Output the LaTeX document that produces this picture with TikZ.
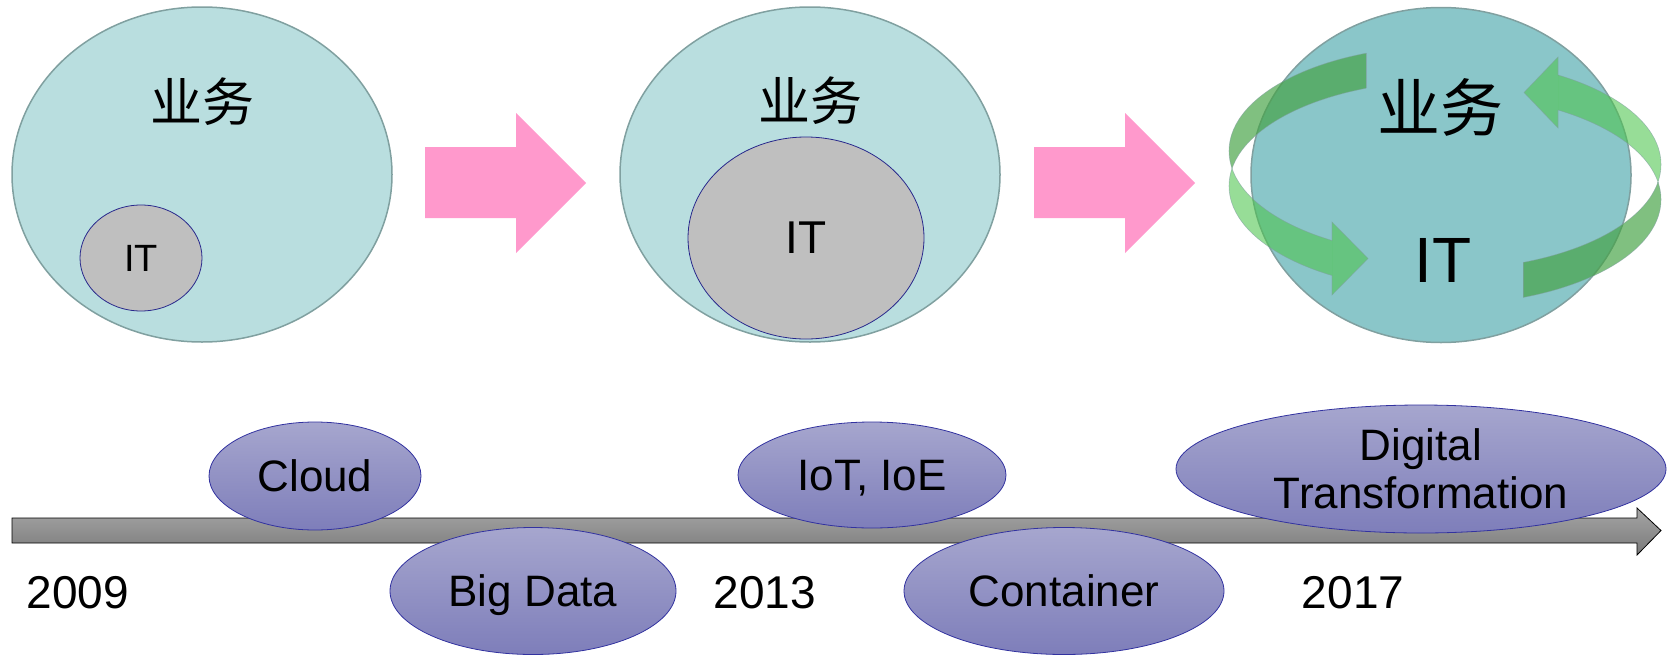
\documentclass[tikz,border=0pt]{standalone}
\usepackage{fontspec}
\setmainfont{Liberation Sans}
\newfontfamily\cjk{Noto Sans CJK SC}
\usetikzlibrary{shapes.geometric}

\definecolor{bizfill}{RGB}{185,222,223}
\definecolor{bizfilldark}{RGB}{138,198,201}
\definecolor{bizline}{RGB}{128,160,160}
\definecolor{itfill}{RGB}{191,191,191}
\definecolor{itline}{RGB}{40,40,140}
\definecolor{pinkarr}{RGB}{255,153,204}
\definecolor{tltop}{RGB}{166,166,206}
\definecolor{tlbot}{RGB}{126,126,186}
\definecolor{tlline}{RGB}{50,50,160}
\definecolor{barlight}{RGB}{165,165,165}
\definecolor{bardark}{RGB}{122,122,122}
\definecolor{grnfront}{RGB}{76,196,76}
\definecolor{grnback}{RGB}{68,162,68}

\begin{document}
\begin{tikzpicture}[x=1pt, y=-1pt,
    bizell/.style={ellipse, draw=bizline, line width=1.5pt, fill=bizfill,
      inner sep=0pt, minimum width=380pt, minimum height=335pt},
    itell/.style={ellipse, draw=itline, line width=0.8pt, fill=itfill, inner sep=0pt},
    tlell/.style={ellipse, draw=tlline, line width=0.8pt, top color=tltop,
      bottom color=tlbot, inner sep=0pt, align=center,
      font=\fontsize{44}{48}\selectfont},
    oneline/.style={text height=31.5pt, text depth=0pt},
    year/.style={font=\fontsize{46}{50}\selectfont, inner sep=0pt},
    biztext/.style={font=\cjk\fontsize{#1}{#1}\selectfont, inner sep=0pt},
    ittext/.style={font=\fontsize{#1}{#1}\selectfont, inner sep=0pt},
    front/.style={grnfront, opacity=0.58},
    back/.style={grnback, opacity=0.68},
    rim/.style={draw=bizline, line width=0.6pt, draw opacity=0.6}]
  \useasboundingbox (0,0) rectangle (1675,656);

  % three stages
  \node[bizell] (biz1) at (202,174.5) {};
  \node[bizell] (biz2) at (810,174.5) {};
  \node[bizell, fill=bizfilldark] (biz3) at (1441,175) {};
  \node[itell, minimum width=122pt, minimum height=106pt] (it1) at (141,258) {};
  \node[itell, minimum width=236pt, minimum height=202pt] (it2) at (806,238) {};

  % pink arrows
  \foreach \sx in {425,1034}
    \fill[pinkarr] (\sx,147) -- (\sx+91,147) -- (\sx+91,113) -- (\sx+161,183)
      -- (\sx+91,253) -- (\sx+91,218) -- (\sx,218) -- cycle;

  % left green arrow
  \begin{scope}
    \clip (1200,0) rectangle (1366,168.5);
    \fill[back, even odd rule] (1445,151) ellipse [x radius=216pt, y radius=105pt]
      (1445,186) ellipse [x radius=216pt, y radius=105pt];
    \draw[rim] (1445,151) ellipse [x radius=216pt, y radius=105pt]
      (1445,186) ellipse [x radius=216pt, y radius=105pt];
  \end{scope}
  \begin{scope}
    \clip (1200,168.5) rectangle (1332,330);
    \fill[front, even odd rule] (1445,151) ellipse [x radius=216pt, y radius=105pt]
      (1445,186) ellipse [x radius=216pt, y radius=105pt];
    \draw[rim] (1445,151) ellipse [x radius=216pt, y radius=105pt]
      (1445,186) ellipse [x radius=216pt, y radius=105pt];
  \end{scope}
  \fill[front] (1332,222) -- (1368,258.5) -- (1332,295) -- cycle;
  \draw[rim] (1332,240.5) -- (1332,222) -- (1368,258.5) -- (1332,295) -- (1332,275.5);
  \draw[rim] (1366,53.3) -- (1366,88.3);

  % right green arrow
  \begin{scope}
    \clip (1558,0) rectangle (1700,182);
    \fill[front, even odd rule] (1445,164.5) ellipse [x radius=216pt, y radius=105pt]
      (1445,199.5) ellipse [x radius=216pt, y radius=105pt];
    \draw[rim] (1445,164.5) ellipse [x radius=216pt, y radius=105pt]
      (1445,199.5) ellipse [x radius=216pt, y radius=105pt];
  \end{scope}
  \begin{scope}
    \clip (1523,182) rectangle (1700,340);
    \fill[back, even odd rule] (1445,164.5) ellipse [x radius=216pt, y radius=105pt]
      (1445,199.5) ellipse [x radius=216pt, y radius=105pt];
    \draw[rim] (1445,164.5) ellipse [x radius=216pt, y radius=105pt]
      (1445,199.5) ellipse [x radius=216pt, y radius=105pt];
  \end{scope}
  \fill[front] (1558,57) -- (1524,92.5) -- (1558,128) -- cycle;
  \draw[rim] (1558,75) -- (1558,57) -- (1524,92.5) -- (1558,128) -- (1558,110);
  \draw[rim] (1523,262.4) -- (1523,297.4);

  % labels
  \node[biztext=52] (biz1lbl) at (202,102) {业务};
  \node[biztext=52] (biz2lbl) at (810,101) {业务};
  \node[biztext=63] (biz3lbl) at (1440,107) {业务};
  \node[ittext=38] (it1lbl) at (it1) {IT};
  \node[ittext=46] (it2lbl) at (it2) {IT};
  \node[ittext=64] (it3lbl) at (1443,260) {IT};

  % timeline
  \coordinate (tlstart) at (12,530.5);
  \coordinate (tlend) at (1661,530.5);
  \shade[top color=barlight, bottom color=bardark, draw=black, line width=0.8pt]
    (tlstart) ++(0,-12.5) -- (1637,518) -- (1637,508) -- (tlend) -- (1637,555)
    -- (1637,543) -- (12,543) -- cycle;

  \node[tlell, oneline, minimum width=212pt, minimum height=108pt] (cloud) at (315,476) {Cloud};
  \node[tlell, oneline, minimum width=286pt, minimum height=127pt] (bigdata) at (533,591) {Big Data};
  \node[tlell, oneline, minimum width=268pt, minimum height=106pt] (iot) at (872,475) {IoT, IoE};
  \node[tlell, oneline, minimum width=320pt, minimum height=127pt] (container) at (1064,591) {Container};
  \node[tlell, minimum width=490pt, minimum height=128pt] (digital) at (1421,469) {Digital\\Transformation};

  \node[year] (y2009) at (78,593) {2009};
  \node[year] (y2013) at (765,593) {2013};
  \node[year] (y2017) at (1353,593) {2017};
\end{tikzpicture}
\end{document}
